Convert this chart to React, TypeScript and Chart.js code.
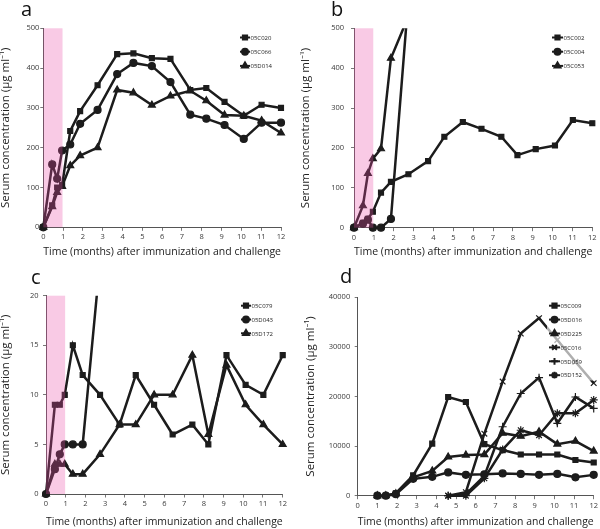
import React, { useEffect, useRef } from 'react';
import { Chart, registerables } from 'chart.js';
import { drawPoint } from 'chart.js/helpers';

Chart.register(...registerables);

// ---------- data ----------
const T_ABC = [0, 0.45, 0.7, 0.95, 1.36, 1.86, 2.74, 3.73, 4.55, 5.48, 6.42, 7.42, 8.23, 9.15, 10.12, 11.02, 12];
const T_D = [1.0, 1.43, 1.94, 2.82, 3.79, 4.6, 5.5, 6.44, 7.37, 8.29, 9.22, 10.15, 11.07, 12];

const A_NAMES = ['05C020', '05C066', '05D014'];
const A_05C020 = [0, 55, 100, 106, 242, 292, 357, 435, 437, 425, 423, 345, 350, 315, 280, 308, 300];
const A_05C066 = [0, 158, 122, 193, 208, 260, 295, 385, 413, 405, 365, 283, 273, 257, 222, 263, 263];
const A_05D014 = [0, 52, 88, 103, 155, 180, 200, 345, 338, 307, 330, 343, 318, 282, 280, 268, 237];

const B_NAMES = ['05C002', '05C004', '05C053'];
const B_05C002 = [0, 12, 22, 40, 88, 115, 134, 167, 228, 265, 248, 228, 182, 197, 206, 270, 262];
const B_05C004 = [0, 10, 20, 0, 0, 22, 575];
const B_05C053 = [0, 55, 136, 173, 198, 425, 530];

const C_NAMES = ['05C079', '05D043', '05D172'];
const C_05C079 = [0, 9, 9, 10, 15, 12, 10, 7, 12, 9, 6, 7, 5, 14, 11, 10, 14];
const C_05D043 = [0, 2.5, 4, 5, 5, 5, 23.5];
const C_05D172 = [0, 3, 3, 3, 2, 2, 4, 7, 7, 10, 10, 14, 6, 13, 9, 7, 5];

const D_NAMES = ['05C009', '05D016', '05D225', '05C016', '05D059', '05D152'];
const D_05C009 = [0, 0, 500, 4100, 10500, 19900, 18900, 10400, 9200, 8300, 8300, 8300, 7200, 6700];
const D_05D016 = [0, 0, 300, 3400, 3800, 4700, 4200, 4300, 4500, 4400, 4200, 4400, 3700, 4200];
const D_05D225 = [0, 0, 400, 3700, 5000, 7800, 8200, 8300, 12600, 12000, 12900, 10400, 11000, 9000];
const D_05C016 = [null, null, null, null, null, 0, 700, 12500, 23000, 32700, 35800, 31400, 27000, 22700];
const D_05D059 = [null, null, null, null, null, 0, 300, 4000, 13900, 20600, 23800, 14600, 19900, 17600];
const D_05D152 = [null, null, null, null, null, 0, 0, 3500, 9300, 13200, 12200, 16600, 16600, 19300];

const X_TICK_MAX = 12;
const Y_MAX_AB = 500;
const Y_MAX_C = 20;
const Y_MAX_D = 40000;
const BAND = [0, 0.97];

const X_TITLE = 'Time (months) after immunization and challenge';
const Y_TITLE = 'Serum concentration (\u03bcg ml\u207b\u00b9)';

// ---------- styles ----------
const FONT = "'Open Sans', 'Noto Sans', sans-serif";
const INK = '#1c1c1c';
const AXIS = '#555555';
const TICK = '#3a3a3a';
const BAND_COLOR = 'rgba(235, 80, 170, 0.3)';

const toPts = (xs: number[], ys: (number | null)[]) =>
  ys.map((y, i) => (y === null || y === undefined ? null : { x: xs[i], y })).filter(Boolean);

type Series = { name: string; xs: number[]; ys: (number | null)[]; marker: string; r: number };

type Panel = {
  left: number; top: number; w: number; h: number;
  area: { left: number; top: number; right: number; bottom: number };
  yMax: number; yStep: number; yPad: number;
  series: Series[];
  band: boolean;
  letter: string; letterPos: [number, number];
  legend: { x0: number; x1: number; y0: number; dy: number };
  legendBox?: [number, number, number, number];
  xTitlePad: number; yTitlePad: number;
};

const panelPlugin = {
  id: 'panel',
  afterDatasetsDraw(chart: any, _args: any, opts: any) {
    const { ctx, chartArea, scales } = chart;
    const p: Panel = opts.p;
    if (!p) return;
    ctx.save();
    if (p.band) {
      const x0 = scales.x.getPixelForValue(BAND[0]);
      const x1 = scales.x.getPixelForValue(BAND[1]);
      ctx.fillStyle = BAND_COLOR;
      ctx.fillRect(x0, chartArea.top, x1 - x0, chartArea.bottom - chartArea.top);
    }
    if (p.legendBox) {
      ctx.fillStyle = 'rgba(255,255,255,0.65)';
      const [bx, by, bw, bh] = p.legendBox;
      ctx.fillRect(bx, by, bw, bh);
    }
    // legend
    const lg = p.legend;
    chart.data.datasets.forEach((ds: any, i: number) => {
      const y = lg.y0 + i * lg.dy;
      ctx.strokeStyle = INK;
      ctx.lineWidth = 2;
      ctx.beginPath();
      ctx.moveTo(lg.x0, y);
      ctx.lineTo(lg.x1, y);
      ctx.stroke();
      ctx.fillStyle = INK;
      drawPoint(ctx, { pointStyle: ds.pointStyle, radius: ds.pointRadius * 0.85, borderWidth: 1, rotation: 0 } as any, (lg.x0 + lg.x1) / 2, y);
      ctx.fillStyle = '#222';
      ctx.font = `6px ${FONT}`;
      ctx.textBaseline = 'middle';
      ctx.textAlign = 'left';
      ctx.fillText(ds.label, lg.x1 + 0.5, y + 0.5);
    });
    // letter
    ctx.fillStyle = '#111';
    ctx.font = `20px ${FONT}`;
    ctx.textBaseline = 'alphabetic';
    ctx.textAlign = 'left';
    ctx.fillText(p.letter, p.letterPos[0], p.letterPos[1]);
    ctx.restore();
  },
};

const mk = (name: string, xs: number[], ys: (number | null)[], marker: string, r = 3.5): Series => ({ name, xs, ys, marker, r });

const PANELS: Panel[] = [
  {
    left: 0, top: 0, w: 300, h: 264,
    area: { left: 43.3, top: 28.3, right: 281, bottom: 227.3 },
    yMax: Y_MAX_AB, yStep: 100, yPad: 1,
    series: [
      mk(A_NAMES[0], T_ABC, A_05C020, 'rect'),
      mk(A_NAMES[1], T_ABC, A_05C066, 'circle'),
      mk(A_NAMES[2], T_ABC, A_05D014, 'triangle', 4),
    ],
    band: true, letter: 'a', letterPos: [21, 16],
    legend: { x0: 240, x1: 250, y0: 37.5, dy: 14.2 },
    xTitlePad: 6, yTitlePad: 0,
  },
  {
    left: 300, top: 0, w: 300, h: 264,
    area: { left: 54, top: 28.3, right: 292.3, bottom: 227.7 },
    yMax: Y_MAX_AB, yStep: 100, yPad: 7,
    series: [
      mk(B_NAMES[0], T_ABC, B_05C002, 'rect'),
      mk(B_NAMES[1], T_ABC, B_05C004, 'circle'),
      mk(B_NAMES[2], T_ABC, B_05C053, 'triangle', 4),
    ],
    band: true, letter: 'b', letterPos: [31, 16],
    legend: { x0: 252, x1: 263, y0: 37.5, dy: 14.2 },
    xTitlePad: 6, yTitlePad: 0,
  },
  {
    left: 0, top: 264, w: 300, h: 265,
    area: { left: 46, top: 31.7, right: 282.7, bottom: 230 },
    yMax: Y_MAX_C, yStep: 5, yPad: 4.5,
    series: [
      mk(C_NAMES[0], T_ABC, C_05C079, 'rect'),
      mk(C_NAMES[1], T_ABC, C_05D043, 'circle'),
      mk(C_NAMES[2], T_ABC, C_05D172, 'triangle', 4),
    ],
    band: true, letter: 'c', letterPos: [31, 20],
    legend: { x0: 241, x1: 251, y0: 41.7, dy: 13.8 },
    xTitlePad: 1, yTitlePad: 0,
  },
  {
    left: 300, top: 264, w: 300, h: 265,
    area: { left: 57.7, top: 33.3, right: 295, bottom: 231.7 },
    yMax: Y_MAX_D, yStep: 10000, yPad: 4.5,
    series: [
      mk(D_NAMES[0], T_D, D_05C009, 'rect'),
      mk(D_NAMES[1], T_D, D_05D016, 'circle'),
      mk(D_NAMES[2], T_D, D_05D225, 'triangle', 4),
      mk(D_NAMES[3], T_D, D_05C016, 'crossRot', 4),
      mk(D_NAMES[4], T_D, D_05D059, 'cross', 4),
      mk(D_NAMES[5], T_D, D_05D152, 'star', 4),
    ],
    band: false, letter: 'd', letterPos: [40, 18.5],
    legend: { x0: 249, x1: 260, y0: 41.7, dy: 13.9 },
    legendBox: [247, 33.5, 53, 83],
    xTitlePad: 1, yTitlePad: 5,
  },
];

function PanelChart({ p }: { p: Panel }) {
  const ref = useRef<HTMLCanvasElement>(null);
  useEffect(() => {
    if (!ref.current) return;
    const chart = new Chart(ref.current, {
      type: 'line',
      data: {
        datasets: p.series.map((s) => ({
          label: s.name,
          data: toPts(s.xs, s.ys) as any,
          borderColor: INK,
          backgroundColor: INK,
          pointBackgroundColor: INK,
          pointBorderColor: INK,
          borderWidth: 2.5,
          pointStyle: s.marker as any,
          pointRadius: s.r,
          pointBorderWidth: 1.2,
          tension: 0,
          clip: { left: 8, right: 8, top: 0, bottom: 8 } as any,
        })),
      },
      options: {
        responsive: false,
        animation: false,
        devicePixelRatio: 1,
        layout: { padding: { top: p.area.top, right: p.w - p.area.right, left: 0, bottom: 0 } },
        plugins: {
          legend: { display: false },
          tooltip: { enabled: false },
          panel: { p } as any,
        } as any,
        scales: {
          x: {
            type: 'linear',
            min: 0,
            max: X_TICK_MAX,
            afterFit: (s: any) => { s.height = p.h - p.area.bottom; },
            ticks: { stepSize: 1, font: { size: 7.5, family: FONT }, color: TICK, padding: 2, maxRotation: 0, autoSkip: false },
            grid: { display: true, drawOnChartArea: false, drawTicks: true, tickLength: 3.5, color: AXIS, lineWidth: 0.8 },
            border: { display: true, color: AXIS, width: 1 },
            title: { display: true, text: X_TITLE, font: { size: 11, family: FONT, lineHeight: 1.2 }, color: '#222', padding: { top: 0, bottom: p.xTitlePad } },
          },
          y: {
            type: 'linear',
            min: 0,
            max: p.yMax,
            afterFit: (s: any) => { s.width = p.area.left; },
            ticks: { stepSize: p.yStep, font: { size: 7.5, family: FONT }, color: TICK, padding: p.yPad, callback: (v: any) => String(v) },
            grid: { display: true, drawOnChartArea: false, drawTicks: true, tickLength: 3, color: AXIS, lineWidth: 0.8 },
            border: { display: true, color: AXIS, width: 1 },
            title: { display: true, text: Y_TITLE, font: { size: 11.5, family: FONT, lineHeight: 1 }, color: '#222', padding: { top: p.yTitlePad, bottom: 0 } },
          },
        },
      } as any,
      plugins: [panelPlugin as any],
    });
    return () => chart.destroy();
  }, [p]);
  return (
    <canvas
      ref={ref}
      width={p.w}
      height={p.h}
      style={{ position: 'absolute', left: p.left, top: p.top, width: p.w, height: p.h }}
    />
  );
}

export default function App() {
  return (
    <div style={{ position: 'absolute', left: 0, top: 0, width: 600, height: 529, background: '#fff', overflow: 'hidden' }}>
      {PANELS.map((p, i) => (
        <PanelChart key={i} p={p} />
      ))}
    </div>
  );
}
